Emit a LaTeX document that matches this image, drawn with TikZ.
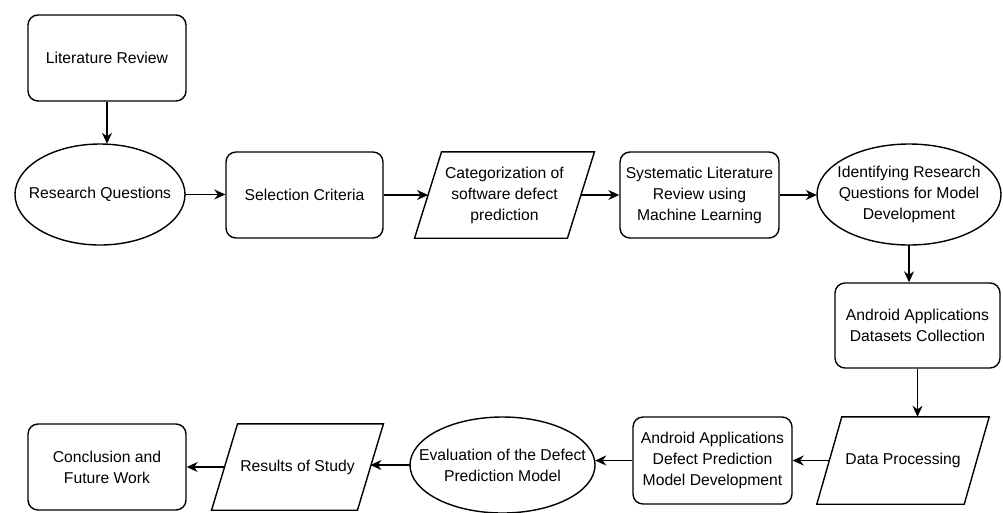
\documentclass[tikz,border=0pt]{standalone}
\usepackage{fontspec}
\setmainfont{Liberation Sans}
\usetikzlibrary{arrows.meta,calc}
\newcommand\drawpara[2]{\draw[shp] ([xshift=#2]#1.north west) -- ([xshift=#2]#1.north east) -- ([xshift=-#2]#1.south east) -- ([xshift=-#2]#1.south west) -- cycle;}
\tikzset{
 txt/.style={font=\fontsize{15.7}{21}\selectfont, align=center, inner sep=0pt, text=black},
 shp/.style={line width=1.4pt, draw=black},
 rbox/.style={txt, shp, rounded corners=10pt},
 plain/.style={txt},
 arr/.style={line width=1.4pt, -{Stealth[length=11pt,width=10pt]}}
}
\begin{document}
\begin{tikzpicture}[x=1pt,y=-1pt]
\useasboundingbox (0,0) rectangle (1003,512);
\node[rbox, minimum width=158pt, minimum height=86pt] (lit) at (107,58) {Literature Review};
\node[plain, minimum width=170pt, minimum height=101pt] (rq) at (100,194.5) {Research Questions};
\draw[shp] (rq.center) ellipse [x radius=85pt, y radius=50.5pt];
\node[rbox, minimum width=157pt, minimum height=86pt] (sel) at (304.5,195) {Selection Criteria};
\node[plain, minimum width=152.5pt, minimum height=86pt] (cat) at (504.5,195) {Categorization of\\software defect\\prediction};
\drawpara{cat}{13.5pt}
\node[rbox, minimum width=159pt, minimum height=86pt] (slr) at (699.5,195) {Systematic Literature\\Review using\\Machine Learning};
\node[plain, minimum width=184pt, minimum height=101pt] (idr) at (909,194.5) {Identifying Research\\Questions for Model\\Development};
\draw[shp] (idr.center) ellipse [x radius=92pt, y radius=50.5pt];
\node[rbox, minimum width=165pt, minimum height=85pt] (adc) at (917.5,325.5) {Android Applications\\Datasets Collection};
\node[plain, minimum width=147pt, minimum height=87pt] (dp) at (903,460.5) {Data Processing};
\drawpara{dp}{12.5pt}
\node[rbox, minimum width=159pt, minimum height=87pt] (adp) at (712.5,460.5) {Android Applications\\Defect Prediction\\Model Development};
\node[plain, minimum width=185pt, minimum height=96pt] (eva) at (502.5,465) {Evaluation of the Defect\\Prediction Model};
\draw[shp] (eva.center) ellipse [x radius=92.5pt, y radius=48pt];
\node[plain, minimum width=145.5pt, minimum height=86pt] (res) at (297.5,467) {Results of Study};
\drawpara{res}{13pt}
\node[rbox, minimum width=158pt, minimum height=86pt] (con) at (107,467) {Conclusion and\\Future Work};
\draw[arr] (lit.south) -- (lit.south |- rq.north);
\draw[arr] (rq.east) -- (rq.east -| sel.west);
\draw[arr] (sel.east) -- (cat.west);
\draw[arr] (cat.east) -- (slr.west);
\draw[arr] (slr.east) -- (slr.east -| idr.west);
\draw[arr] (idr.south) -- (idr.south |- adc.north);
\draw[arr] (adc.south) -- (adc.south |- dp.north);
\draw[arr] (dp.west) -- (adp.east);
\draw[arr] (adp.west) -- (adp.west -| eva.east);
\draw[arr] (eva.west) -- (eva.west -| res.east);
\draw[arr] (res.west) -- (con.east);
\end{tikzpicture}
\end{document}
